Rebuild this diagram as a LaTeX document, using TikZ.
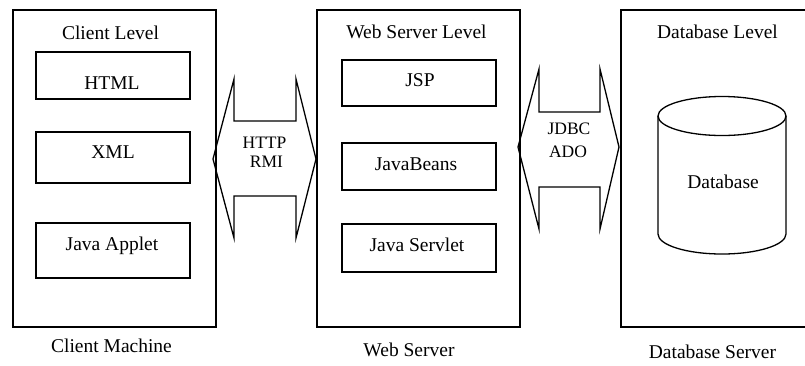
\documentclass[tikz,border=0pt]{standalone}
\usepackage{fontspec}
\setmainfont{Liberation Serif}
\usetikzlibrary{shapes.geometric}
\tikzset{
  outerbox/.style={draw, line width=1.6pt, anchor=north west, inner sep=0pt},
  innerbox/.style={draw, line width=1.6pt, inner sep=0pt},
  txt/.style={anchor=base, inner sep=0pt, font=\fontsize{19.5}{22}\selectfont},
  small/.style={anchor=base, inner sep=0pt, font=\fontsize{17.5}{20}\selectfont},
  bigarrow/.style={draw, line width=1.3pt, line join=miter},
}
\begin{document}
\begin{tikzpicture}[x=1pt, y=-1pt]
\useasboundingbox (0,0) rectangle (805,365);
\clip (0,0) rectangle (805,365);
% outer boxes
\node[outerbox, minimum width=203pt, minimum height=317pt] (client) at (12,9) {};
\node[outerbox, minimum width=203pt, minimum height=317pt] (web) at (316,9) {};
\node[outerbox, minimum width=220pt, minimum height=317pt] (db) at (620,9) {};
% level titles
\node[txt] (clientlevel) at (110.5,39) {Client Level};
\node[txt] (weblevel) at (416.5,38) {Web Server Level};
\node[txt] (dblevel) at (717.5,38) {Database Level};
% client inner boxes
\node[innerbox, minimum width=154pt, minimum height=47pt] (html) at (113,75.5) {};
\node[innerbox, minimum width=154pt, minimum height=51pt] (xml) at (113,157.5) {};
\node[innerbox, minimum width=154pt, minimum height=55pt] (applet) at (113,250.5) {};
\node[txt] (htmlt) at (112,89) {HTML};
\node[txt] (xmlt) at (113,158) {XML};
\node[txt] (applett) at (112,250) {Java Applet};
% web inner boxes
\node[innerbox, minimum width=154pt, minimum height=46pt] (jsp) at (419,83) {};
\node[innerbox, minimum width=154pt, minimum height=47pt] (beans) at (419,166.5) {};
\node[innerbox, minimum width=154pt, minimum height=48pt] (servlet) at (419,248) {};
\node[txt] (jspt) at (420,86) {JSP};
\node[txt] (beanst) at (416,170) {JavaBeans};
\node[txt] (servlett) at (417,251.5) {Java Servlet};
% database cylinder
\draw[line width=1.3pt] (658,116) -- (658,234)
  arc[start angle=180, end angle=360, x radius=64pt, y radius=20pt]
  -- (786,116);
\draw[line width=1.3pt] (722,116) ellipse [x radius=64pt, y radius=19.5pt];
\node[txt] (dbt) at (723,188) {Database};
% captions
\node[txt] (clientcap) at (111.5,352) {Client Machine};
\node[txt] (webcap) at (409,356) {Web Server};
\node[txt] (dbcap) at (712.5,358) {Database Server};
% double arrows
\draw[bigarrow] (213,159) -- (234,79) -- (234,121) -- (296,121) -- (296,79)
  -- (316,159) -- (296,238) -- (296,196) -- (234,196) -- (234,238) -- cycle;
\node[small] (http) at (264.5,148) {HTTP};
\node[small] (rmi) at (266.5,167) {RMI};
\draw[bigarrow] (518,147) -- (539,69) -- (539,112) -- (600,112) -- (600,69)
  -- (619,147) -- (600,229) -- (600,187) -- (539,187) -- (539,229) -- cycle;
\node[small] (jdbc) at (569,134) {JDBC};
\node[small] (ado) at (568,157.5) {ADO};
\end{tikzpicture}
\end{document}
